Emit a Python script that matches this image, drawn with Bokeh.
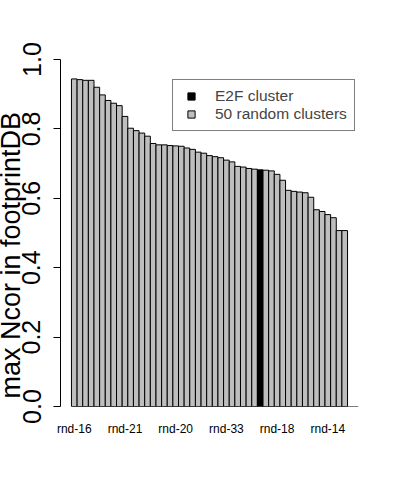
import math
from bokeh.plotting import figure
from bokeh.models import (ColumnDataSource, FixedTicker, Title, Legend, LegendItem)
from bokeh.embed import file_html
from bokeh.resources import INLINE

# ---- data, sorted descending ----
max_ncor = [0.944, 0.942, 0.940, 0.940, 0.920, 0.898, 0.882, 0.874, 0.867, 0.836,
            0.802, 0.795, 0.788, 0.779, 0.758, 0.754, 0.754, 0.752, 0.751, 0.750,
            0.745, 0.741, 0.733, 0.730, 0.723, 0.720, 0.717, 0.710, 0.705, 0.692,
            0.690, 0.686, 0.684, 0.682, 0.681, 0.679, 0.669, 0.652, 0.623, 0.620,
            0.618, 0.616, 0.603, 0.567, 0.562, 0.553, 0.544, 0.507, 0.507]
e2f_index = 33                     # position of the E2F cluster bar
label_positions = [0, 9, 18, 27, 36, 45]
label_names = ["rnd-16", "rnd-21", "rnd-20", "rnd-33", "rnd-18", "rnd-14"]
y_ticks = [0.0, 0.2, 0.4, 0.6, 0.8, 1.0]
y_tick_labels = ["0.0", "0.2", "0.4", "0.6", "0.8", "1.0"]
legend_labels = ["E2F cluster", "50 random clusters"]
y_title = "max Ncor in footprintDB"

FONT = "Liberation Sans"
GREY = "#BEBEBE"
n = len(max_ncor)
xs = list(range(n))
colors = ["black" if i == e2f_index else GREY for i in xs]
src = ColumnDataSource(dict(x=xs, top=max_ncor, color=colors))

pad = 1.946
p = figure(width=400, height=480, output_backend="svg", toolbar_location=None,
           x_range=(-0.5 - pad, n - 0.5 + pad), y_range=(0, 1),
           min_border_left=59, min_border_right=42, min_border_top=59,
           min_border_bottom=74, background_fill_color="white",
           border_fill_color="white")
p.outline_line_color = None
p.grid.visible = False

p.vbar(x="x", top="top", width=1, bottom=0, source=src, fill_color="color",
       line_color="black", line_width=1)

# baseline
p.segment(x0=[-0.5], y0=[0], x1=[n - 0.5 + pad], y1=[0], line_color="black", line_width=1)

# y axis
ya = p.yaxis[0]
ya.ticker = FixedTicker(ticks=y_ticks)
ya.major_label_overrides = {t: l for t, l in zip(y_ticks, y_tick_labels)}
ya.major_label_orientation = "parallel"
ya.major_label_text_font = FONT
ya.major_label_text_font_size = "25px"
ya.major_label_text_color = "black"
ya.major_tick_out = 7
ya.major_tick_in = 0
ya.minor_tick_line_color = None
ya.major_label_standoff = 13
ya.axis_line_color = "black"
ya.axis_line_width = 1
ya.major_tick_line_color = "black"
ya.major_tick_line_width = 1

# x axis: labels only
xa = p.xaxis[0]
xa.ticker = FixedTicker(ticks=label_positions)
xa.major_label_overrides = {pos: name for pos, name in zip(label_positions, label_names)}
xa.axis_line_color = None
xa.major_tick_line_color = None
xa.minor_tick_line_color = None
xa.major_tick_out = 0
xa.major_tick_in = 0
xa.major_label_standoff = 15
xa.major_label_text_font = FONT
xa.major_label_text_font_size = "12px"
xa.major_label_text_color = "black"

# y title, in the left panel outside the axis
p.add_layout(Title(text=y_title, align="left", vertical_align="bottom", offset=8,
                   standoff=-13, text_font=FONT, text_font_size="27px",
                   text_font_style="normal", text_color="black"), "left")

# legend (marker proxies of size 0 at the bars they stand for)
r1 = p.scatter(x=[e2f_index], y=[max_ncor[e2f_index]], marker="square", size=0,
               fill_color="black", line_color="black")
r2 = p.scatter(x=[0], y=[max_ncor[0]], marker="square", size=0,
               fill_color=GREY, line_color="black")
legend = Legend(items=[LegendItem(label=legend_labels[0], renderers=[r1]),
                       LegendItem(label=legend_labels[1], renderers=[r2])],
                location=(112, 274.7))
legend.border_line_color = "black"
legend.border_line_width = 1
legend.background_fill_color = "white"
legend.background_fill_alpha = 1
legend.padding = 7
legend.spacing = 0
legend.margin = 0
legend.glyph_width = 22
legend.glyph_height = 18
legend.label_height = 18
legend.label_standoff = 13
legend.label_text_font = FONT
legend.label_text_font_size = "15.5px"
p.add_layout(legend)

open("out.html", "w").write(file_html(p, INLINE))
